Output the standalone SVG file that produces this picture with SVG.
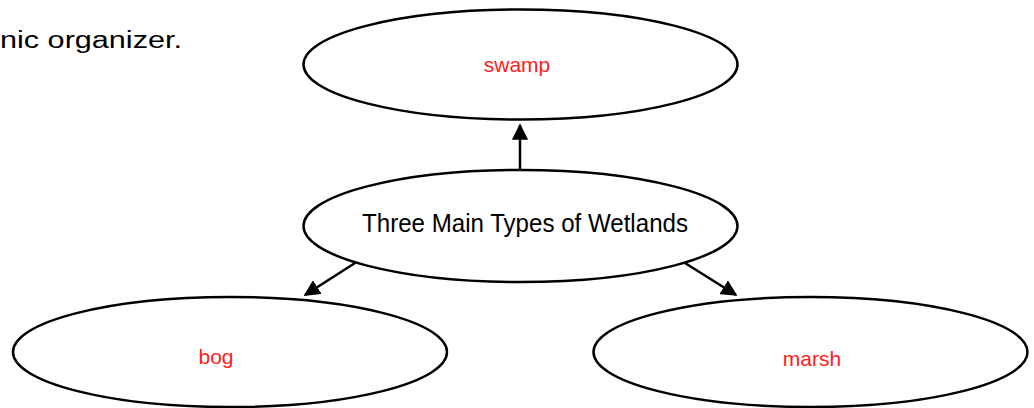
<svg xmlns="http://www.w3.org/2000/svg" width="1034" height="408" viewBox="0 0 1034 408">
<style>
.node ellipse{fill:#fff;stroke:#000;stroke-width:2.5}
.lbl{font-family:"Liberation Sans",Arial,sans-serif;font-size:21px;fill:#ff2020;text-anchor:middle}
.main{font-family:"Liberation Sans",Arial,sans-serif;font-size:25px;fill:#000;text-anchor:middle}
.conn line{stroke:#000;stroke-width:2.5}
</style>
<defs>
<marker id="ah" viewBox="0 0 10 10" refX="9" refY="5" markerWidth="6.5" markerHeight="6.5" markerUnits="strokeWidth" orient="auto">
<path d="M0,0 L10,5 L0,10 Z" fill="#000"/>
</marker>
</defs>
<rect width="1034" height="408" fill="#fff"/>
<text x="0" y="48" font-family="'Liberation Sans',Arial,sans-serif" font-size="23" fill="#000" textLength="182" lengthAdjust="spacingAndGlyphs">nic organizer.</text>
<g class="conn">
<line x1="520" y1="170" x2="520" y2="125" marker-end="url(#ah)"/>
<line x1="355" y1="263" x2="305" y2="295" marker-end="url(#ah)"/>
<line x1="685" y1="263" x2="736" y2="295" marker-end="url(#ah)"/>
</g>
<g id="swamp" class="node">
<ellipse cx="520.5" cy="64.5" rx="217" ry="55"/>
<text class="lbl" x="517" y="72">swamp</text>
</g>
<g id="center" class="node">
<ellipse cx="520.5" cy="226" rx="217" ry="56"/>
<text class="main" x="525" y="232" textLength="326" lengthAdjust="spacingAndGlyphs">Three Main Types of Wetlands</text>
</g>
<g id="bog" class="node">
<ellipse cx="230" cy="352" rx="217" ry="55"/>
<text class="lbl" x="216" y="364">bog</text>
</g>
<g id="marsh" class="node">
<ellipse cx="810.5" cy="352" rx="217" ry="55"/>
<text class="lbl" x="812" y="366">marsh</text>
</g>
</svg>
